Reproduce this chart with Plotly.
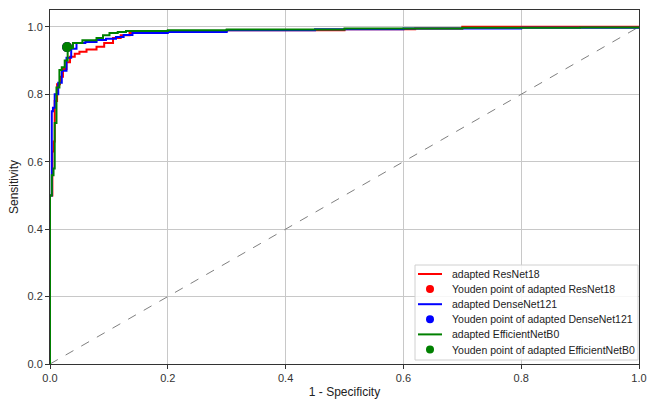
import plotly.graph_objects as go

# ROC curves (1 - specificity, sensitivity)
resnet_fpr = [0.0, 0.0, 0.0, 0.004, 0.004, 0.006, 0.008, 0.008, 0.012, 0.017, 0.022, 0.028, 0.034, 0.042, 0.05, 0.062, 0.079, 0.092, 0.107, 0.12, 0.135, 0.16, 0.2, 0.3, 0.5, 0.62, 0.7, 0.85, 1.0]
resnet_tpr = [0.0, 0.38, 0.5, 0.55, 0.63, 0.66, 0.72, 0.78, 0.83, 0.852, 0.875, 0.895, 0.911, 0.92, 0.926, 0.933, 0.941, 0.952, 0.967, 0.975, 0.982, 0.985, 0.988, 0.99, 0.993, 0.995, 1.0, 1.0, 1.0]
resnet_youden = ([0.029], [0.94])

densenet_fpr = [0.0, 0.0, 0.0, 0.003, 0.003, 0.005, 0.008, 0.014, 0.02, 0.028, 0.036, 0.045, 0.06, 0.079, 0.095, 0.112, 0.125, 0.14, 0.2, 0.3, 0.45, 0.6, 0.8, 1.0]
densenet_tpr = [0.0, 0.42, 0.5, 0.6, 0.75, 0.76, 0.8, 0.834, 0.87, 0.908, 0.935, 0.952, 0.955, 0.961, 0.965, 0.97, 0.976, 0.982, 0.985, 0.99, 0.993, 0.995, 0.997, 1.0]
densenet_youden = ([0.029], [0.94])

effnet_fpr = [0.0, 0.0, 0.0, 0.003, 0.006, 0.008, 0.011, 0.016, 0.02, 0.025, 0.03, 0.039, 0.055, 0.079, 0.09, 0.101, 0.115, 0.129, 0.2, 0.3, 0.5, 0.7, 0.9, 1.0]
effnet_tpr = [0.0, 0.4, 0.5, 0.56, 0.58, 0.715, 0.82, 0.872, 0.88, 0.9, 0.937, 0.952, 0.96, 0.967, 0.975, 0.982, 0.985, 0.988, 0.99, 0.992, 0.995, 0.997, 0.998, 1.0]
effnet_youden = ([0.029], [0.94])

diag_x = [0.0, 1.0]
diag_y = [0.0, 1.0]

x_ticks = [0.0, 0.2, 0.4, 0.6, 0.8, 1.0]
y_ticks = [0.0, 0.2, 0.4, 0.6, 0.8, 1.0]
tick_labels = ["0.0", "0.2", "0.4", "0.6", "0.8", "1.0"]

W, H = 648, 399
ML, MR, MT, MB = 50, 9, 10, 35
PW, PH = W - ML - MR, H - MT - MB


def px_x(px):
    return (px - ML) / PW


def px_y(py):
    return (H - MB - py) / PH


fig = go.Figure()
fig.add_trace(go.Scatter(x=diag_x, y=diag_y, mode="lines", line=dict(color="gray", width=1, dash="dash"),
                         showlegend=False, hoverinfo="skip"))

series = [
    ("adapted ResNet18", resnet_fpr, resnet_tpr, resnet_youden, "#ff0000"),
    ("adapted DenseNet121", densenet_fpr, densenet_tpr, densenet_youden, "#0000ff"),
    ("adapted EfficientNetB0", effnet_fpr, effnet_tpr, effnet_youden, "#008000"),
]
for name, fx, ty, yd, col in series:
    fig.add_trace(go.Scatter(x=fx, y=ty, mode="lines", name=name, showlegend=False,
                             line=dict(color=col, width=2, shape="hv")))
    fig.add_trace(go.Scatter(x=yd[0], y=yd[1], mode="markers", name="Youden point of " + name,
                             showlegend=False, marker=dict(color=col, size=10)))

# hand-drawn legend box (matplotlib-like compact spacing)
fig.add_shape(type="rect", xref="paper", yref="paper", x0=px_x(415), x1=px_x(638), y0=px_y(360), y1=px_y(265),
              fillcolor="rgba(255,255,255,0.85)", line=dict(color="#d0d0d0", width=1), layer="above")
row = 0
for name, fx, ty, yd, col in series:
    for kind, label in (("line", name), ("dot", "Youden point of " + name)):
        cy = 274 + row * 15.1
        if kind == "line":
            fig.add_shape(type="line", xref="paper", yref="paper", x0=px_x(418), x1=px_x(442),
                          y0=px_y(cy), y1=px_y(cy), line=dict(color=col, width=2), layer="above")
        else:
            fig.add_shape(type="circle", xref="paper", yref="paper", xsizemode="pixel", ysizemode="pixel",
                          xanchor=px_x(430), yanchor=px_y(cy), x0=-4, x1=4, y0=-4, y1=4,
                          fillcolor=col, line=dict(color=col, width=0), layer="above")
        fig.add_annotation(xref="paper", yref="paper", x=px_x(450), y=px_y(cy), text=label, showarrow=False,
                           xanchor="left", yanchor="middle", font=dict(size=10.5, color="#222222"))
        row += 1

axis_common = dict(showgrid=True, gridcolor="#c8c8c8", gridwidth=1, showline=True, linecolor="#333333",
                   linewidth=1, mirror=True, ticks="outside", ticklen=4, tickcolor="#333333",
                   tickfont=dict(size=11, color="#333333"), zeroline=False, automargin=False)

fig.update_layout(
    width=W, height=H,
    margin=dict(l=ML, r=MR, t=MT, b=MB),
    paper_bgcolor="white", plot_bgcolor="white",
    font=dict(family="Liberation Sans, Arial, sans-serif", color="#222222"),
    xaxis=dict(range=[0, 1], tickvals=x_ticks, ticktext=tick_labels,
               title=dict(text="1 - Specificity", font=dict(size=12), standoff=4), **axis_common),
    yaxis=dict(range=[0, 1.05], tickvals=y_ticks, ticktext=tick_labels,
               title=dict(text="Sensitivity", font=dict(size=12), standoff=6), **axis_common),
    showlegend=False,
)

fig.write_html("out.html")
